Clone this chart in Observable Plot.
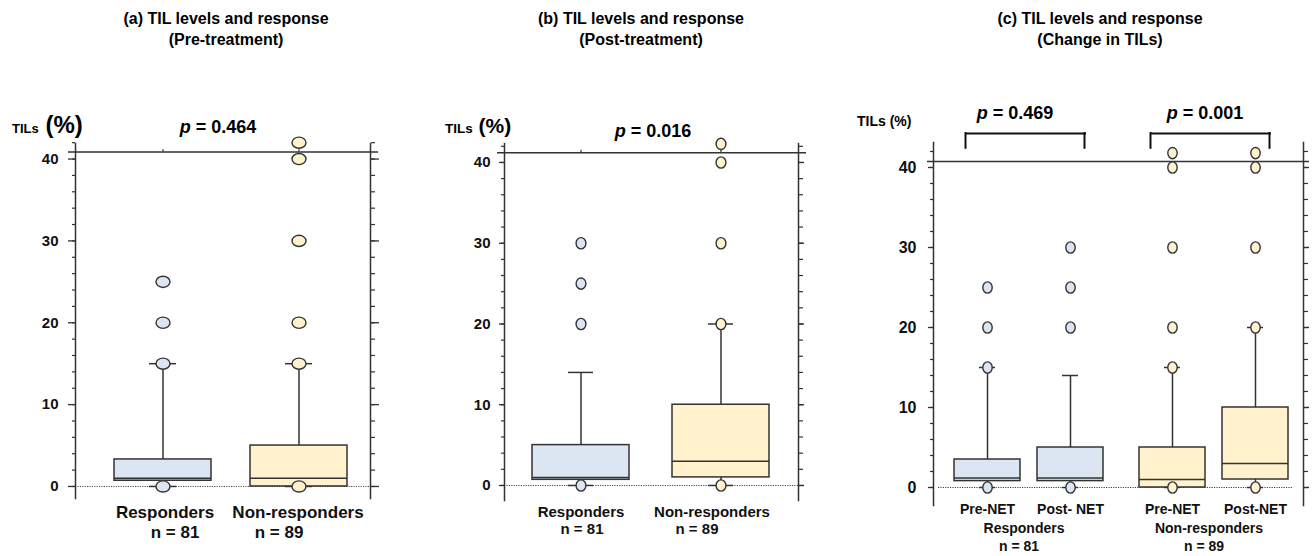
<!DOCTYPE html>
<html>
<head>
<meta charset="utf-8">
<script src="https://cdn.jsdelivr.net/npm/d3@7"></script>
<script src="https://cdn.jsdelivr.net/npm/@observablehq/plot@0.6"></script>
<style>
  body { margin: 0; background: #fff; }
  #wrap { position: relative; width: 1312px; height: 556px; overflow: hidden;
          font-family: "Liberation Sans", Arial, Helvetica, sans-serif; color: #000; }
  .panel { position: absolute; top: 0; }
  .title { position: absolute; top: 8px; width: 320px; text-align: center;
           font-weight: bold; font-size: 16px; line-height: 21px; }
  .pv { position: absolute; font-weight: bold; font-size: 18px; line-height: 18px;
        white-space: nowrap; transform: translateX(-50%); }
  .ylab { position: absolute; font-weight: bold; white-space: nowrap; }
  svg text { font-family: "Liberation Sans", Arial, Helvetica, sans-serif; }
</style>
</head>
<body>
<div id="wrap"></div>
<script>
// ---------------- data ----------------
const yMajor = [0, 10, 20, 30, 40];
const yLabel = "TILs";
const yUnit = "(%)";
const pPrefix = "p";

const titles = [
  ["(a) TIL levels and response", "(Pre-treatment)"],
  ["(b) TIL levels and response", "(Post-treatment)"],
  ["(c) TIL levels and response", "(Change in TILs)"]
];

// Panel (a) – pre-treatment
const aGroups = ["Responders", "Non-responders"];
const aN = ["n = 81", "n = 89"];
const aQ1 = [0.7, 0];
const aMedian = [1, 1];
const aQ3 = [3.3, 5];
const aLow = [0, 0];
const aHigh = [15, 15];
const aOutliers = [[0, 15, 20, 25], [0, 15, 20, 30, 40, 42]];
const aP = "0.464";

// Panel (b) – post-treatment
const bGroups = ["Responders", "Non-responders"];
const bN = ["n = 81", "n = 89"];
const bQ1 = [0.7, 1];
const bMedian = [1, 3];
const bQ3 = [5, 10];
const bLow = [0, 0];
const bHigh = [14, 20];
const bOutliers = [[0, 20, 25, 30], [0, 20, 30, 40, 42.3]];
const bP = "0.016";

// Panel (c) – change in TILs
const cGroups = ["Responders", "Non-responders"];
const cN = ["n = 81", "n = 89"];
const cTimes = ["Pre-NET", "Post-NET"];
const cTimeLabels = [["Pre-NET", "Post- NET"], ["Pre-NET", "Post-NET"]];
const cQ1 = [[0.8, 0.8], [0, 1]];
const cMedian = [[1.2, 1.2], [1, 3]];
const cQ3 = [[3.5, 5], [5, 10]];
const cLow = [[0, 0], [0, 0]];
const cHigh = [[15, 14], [15, 20]];
const cOutliers = [
  [[0, 15, 20, 25], [0, 20, 25, 30]],
  [[0, 15, 20, 30, 40, 41.8], [0, 20, 30, 40, 41.8]]
];
const cP = ["0.469", "0.001"];

// ---------------- styles ----------------
const FONT = '"Liberation Sans", Arial, Helvetica, sans-serif';
const INK = "#333";
const FILLS = ["#dce6f2", "#fff2cc"];

function ellipse(rx, ry) {
  const k = 0.5523;
  return {
    draw(ctx) {
      ctx.moveTo(rx, 0);
      ctx.bezierCurveTo(rx, ry * k, rx * k, ry, 0, ry);
      ctx.bezierCurveTo(-rx * k, ry, -rx, ry * k, -rx, 0);
      ctx.bezierCurveTo(-rx, -ry * k, -rx * k, -ry, 0, -ry);
      ctx.bezierCurveTo(rx * k, -ry, rx, -ry * k, rx, 0);
      ctx.closePath();
    }
  };
}

const wrap = document.getElementById("wrap");
const minorTicks = d3.range(0, 43, 2);

function axisMarks(o) {
  return [
    Plot.frame({anchor: "left", stroke: INK, strokeWidth: 1.5, facetAnchor: "left"}),
    Plot.frame({anchor: "right", stroke: INK, strokeWidth: 1.5, facetAnchor: "right"}),
    Plot.axisY({anchor: "left", ticks: yMajor, tickSize: o.tickL, tickPadding: o.pad,
                fontSize: o.tickFont, fontWeight: "bold", stroke: INK, fill: "#111",
                strokeWidth: 1.3, label: null}),
    Plot.axisY({anchor: "left", ticks: minorTicks, tickSize: 3, stroke: INK, fill: "none",
                strokeWidth: 1.2, label: null}),
    Plot.axisY({anchor: "right", ticks: yMajor, tickSize: o.tickR, stroke: INK, fill: "none",
                strokeWidth: 1.3, label: null}),
    Plot.axisY({anchor: "right", ticks: minorTicks, tickSize: 4, stroke: INK, fill: "none",
                strokeWidth: 1.2, label: null})
  ];
}

function simplePanel(c) {
  const stats = c.groups.map((g, i) => ({
    group: g, n: c.n[i], q1: c.q1[i], median: c.median[i], q3: c.q3[i],
    low: c.low[i], high: c.high[i]
  }));
  const outs = c.groups.flatMap((g, i) => c.outliers[i].map(v => ({group: g, value: v})));
  const line = {stroke: INK, strokeWidth: 1.5};
  const plot = Plot.plot({
    width: c.width, height: 556,
    marginLeft: c.ml, marginRight: c.mr, marginTop: c.mt, marginBottom: c.mb,
    style: {fontFamily: FONT, background: "transparent", overflow: "visible"},
    x: {domain: c.groups, paddingInner: c.pi, paddingOuter: c.po, align: c.align, axis: null},
    y: {domain: c.yDomain, axis: null},
    color: {domain: c.groups, range: FILLS},
    marks: [
      Plot.ruleY([0], {stroke: "#444", strokeWidth: 1, strokeDasharray: "1.2,1.2"}),
      Plot.ruleY([c.topLine], {stroke: INK, strokeWidth: 1.5, insetLeft: -7, insetRight: -8}),
      Plot.ruleX(stats, {x: "group", y1: c.topLine, y2: c.topLine + 0.3, stroke: INK, strokeWidth: 1.2}),
      ...axisMarks(c),
      Plot.ruleX(stats, {x: "group", y1: "q3", y2: "high", ...line}),
      Plot.ruleX(stats, {x: "group", y1: "low", y2: "q1", ...line}),
      Plot.tickY(stats, {x: "group", y: "high", insetLeft: c.cap, insetRight: c.cap, ...line}),
      Plot.tickY(stats, {x: "group", y: "low", insetLeft: c.cap, insetRight: c.cap, ...line}),
      Plot.barY(stats, {x: "group", y1: "q1", y2: "q3", fill: "group", ...line}),
      Plot.tickY(stats, {x: "group", y: "median", ...line}),
      Plot.dot(outs, {x: "group", y: "value", symbol: ellipse(c.rx, c.ry), fill: "group",
                      stroke: INK, strokeWidth: 1.4}),
      ...stats.map((d, i) => Plot.text([d], {x: "group", text: "group", frameAnchor: "bottom",
                      dy: c.labDy, dx: c.labDx[i], fontSize: c.labFont, fontWeight: "bold", fill: "#111"})),
      ...stats.map((d, i) => Plot.text([d], {x: "group", text: "n", frameAnchor: "bottom",
                      dy: c.nDy, dx: c.nDx[i], fontSize: c.labFont, fontWeight: "bold", fill: "#111"}))
    ]
  });
  plot.classList.add("panel");
  plot.style.left = c.left + "px";
  wrap.appendChild(plot);
}

simplePanel({
  groups: aGroups, n: aN, q1: aQ1, median: aMedian, q3: aQ3, low: aLow, high: aHigh,
  outliers: aOutliers, left: 0, width: 420, ml: 75, mr: 50, mt: 143, mb: 58,
  pi: 0.287, po: 0.228, align: 0.63, yDomain: [-1.47, 41.9], topLine: 40.85,
  tickL: 7, tickR: 8, pad: 10, tickFont: 15, cap: 35, rx: 7, ry: 5.6,
  labDy: 19, labDx: [2, -1], nDy: 39, nDx: [12, -20], labFont: 17
});

simplePanel({
  groups: bGroups, n: bN, q1: bQ1, median: bMedian, q3: bQ3, low: bLow, high: bHigh,
  outliers: bOutliers, left: 420, width: 420, ml: 84, mr: 42, mt: 143, mb: 56,
  pi: 0.307, po: 0.2035, align: 0.5, yDomain: [-1.86, 42.35], topLine: 41.2,
  tickL: 5, tickR: 5, pad: 9, tickFont: 15, cap: 36, rx: 4.9, ry: 5.6,
  labDy: 16, labDx: [0, -9], nDy: 33, nDx: [1, -24], labFont: 15
});

// Panel (c): faceted by response group
(function () {
  const stats = cGroups.flatMap((g, i) => cTimes.map((t, j) => ({
    group: g, time: t, label: cTimeLabels[i][j], q1: cQ1[i][j], median: cMedian[i][j],
    q3: cQ3[i][j], low: cLow[i][j], high: cHigh[i][j]
  })));
  const outs = cGroups.flatMap((g, i) => cTimes.flatMap((t, j) =>
    cOutliers[i][j].map(v => ({group: g, time: t, value: v}))));
  const groupStats = cGroups.map((g, i) => ({group: g, n: cN[i], p: cP[i], from: cTimes[0], to: cTimes[1]}));
  const line = {stroke: INK, strokeWidth: 1.5};
  const bracket = {stroke: "#111", strokeWidth: 2, strokeLinecap: "square"};
  const plot = Plot.plot({
    width: 472, height: 556, marginLeft: 93, marginRight: 9, marginTop: 142, marginBottom: 51,
    style: {fontFamily: FONT, background: "transparent", overflow: "visible"},
    fx: {domain: cGroups, paddingInner: 0, paddingOuter: 0, axis: null},
    x: {domain: cTimes, paddingInner: 0.2, paddingOuter: 0.2045, align: 0.6, axis: null},
    y: {domain: [-2.25, 43.125], axis: null},
    color: {domain: cGroups, range: FILLS},
    marks: [
      // lines spanning both facets are drawn once, from the left facet
      Plot.ruleY([0], {facetAnchor: "left", insetLeft: 5, insetRight: -175,
                       stroke: "#444", strokeWidth: 1, strokeDasharray: "1.2,1.2"}),
      Plot.ruleY([40.75], {facetAnchor: "left", insetLeft: -6, insetRight: -191,
                           stroke: INK, strokeWidth: 1.5}),
      Plot.ruleX(groupStats, {fx: "group", y1: 40.75, y2: 41.05, stroke: INK, strokeWidth: 1.2}),
      ...axisMarks({tickL: 5, tickR: 5, pad: 12, tickFont: 16}),
      Plot.ruleX(stats, {fx: "group", x: "time", y1: "q3", y2: "high", ...line}),
      Plot.ruleX(stats, {fx: "group", x: "time", y1: "low", y2: "q1", ...line}),
      Plot.tickY(stats, {fx: "group", x: "time", y: "high", insetLeft: 25, insetRight: 25, ...line}),
      Plot.tickY(stats, {fx: "group", x: "time", y: "low", insetLeft: 25, insetRight: 25, ...line}),
      Plot.barY(stats, {fx: "group", x: "time", y1: "q1", y2: "q3", fill: "group", ...line}),
      Plot.tickY(stats, {fx: "group", x: "time", y: "median", ...line}),
      Plot.dot(outs, {fx: "group", x: "time", y: "value", symbol: ellipse(4.7, 5.6), fill: "group",
                      stroke: INK, strokeWidth: 1.4}),
      // significance brackets
      Plot.ruleY(groupStats, {fx: "group", y: 44.25, insetLeft: 33, insetRight: 33, ...bracket}),
      Plot.ruleX(groupStats, {fx: "group", x: "from", y1: 42.4, y2: 44.25, dx: -22, ...bracket}),
      Plot.ruleX(groupStats, {fx: "group", x: "to", y1: 42.4, y2: 44.25, dx: 14, ...bracket}),
      // category labels
      Plot.text(stats, {fx: "group", x: "time", text: "label", frameAnchor: "bottom", dy: 8,
                        fontSize: 14, fontWeight: "bold", fill: "#111"}),
      Plot.text(groupStats, {fx: "group", text: "group", frameAnchor: "bottom", dy: 27, dx: -2,
                        fontSize: 14, fontWeight: "bold", fill: "#111"}),
      Plot.text(groupStats, {fx: "group", text: "n", frameAnchor: "bottom", dy: 45, dx: -7,
                        fontSize: 14, fontWeight: "bold", fill: "#111"})
    ]
  });
  plot.classList.add("panel");
  plot.style.left = "840px";
  wrap.appendChild(plot);
})();

// ---------------- text overlays ----------------
function addHTML(cls, html, css) {
  const d = document.createElement("div");
  d.className = cls;
  d.innerHTML = html;
  Object.assign(d.style, css);
  wrap.appendChild(d);
  return d;
}
const titleCenters = [226, 641, 1100];
titles.forEach((t, i) => addHTML("title", t.join("<br>"), {left: (titleCenters[i] - 160) + "px"}));

const pHTML = v => `<i>${pPrefix}</i> = ${v}`;
addHTML("pv", pHTML(aP), {left: "218px", top: "118px"});
addHTML("pv", pHTML(bP), {left: "653px", top: "122px"});
addHTML("pv", pHTML(cP[0]), {left: "1015px", top: "104px"});
addHTML("pv", pHTML(cP[1]), {left: "1205px", top: "104px"});

addHTML("ylab", `<span style="font-size:13px">${yLabel}</span> ${yUnit}`,
        {left: "12px", top: "113px", fontSize: "24px", lineHeight: "24px"});
addHTML("ylab", `<span style="font-size:13.5px">${yLabel}</span> ${yUnit}`,
        {left: "445px", top: "115px", fontSize: "21px", lineHeight: "21px"});
addHTML("ylab", `${yLabel} ${yUnit}`,
        {left: "857px", top: "114px", fontSize: "14px", lineHeight: "14px"});
</script>
</body>
</html>
